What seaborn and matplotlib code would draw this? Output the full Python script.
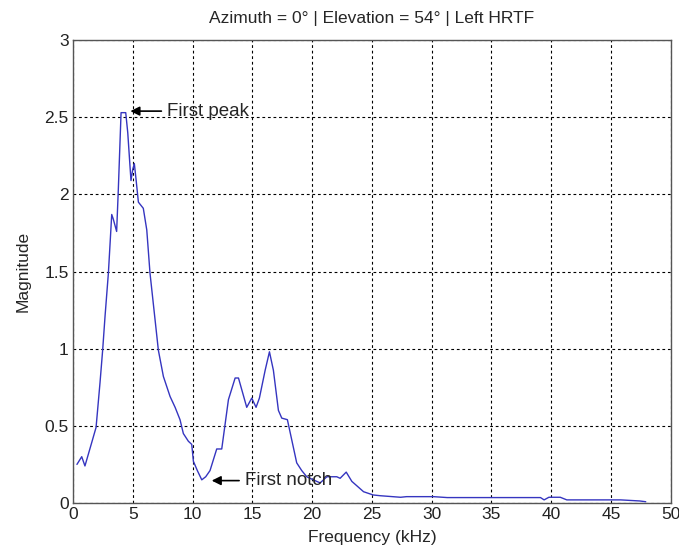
import pandas as pd
import matplotlib
matplotlib.use("Agg")
import matplotlib.pyplot as plt
import seaborn as sns

# --- datos ---
freq_khz = [0.33, 0.73, 1.0, 1.56, 1.93, 2.26, 2.48, 2.68, 2.96, 3.24, 3.37, 3.65, 3.79,
            4.02, 4.41, 4.58, 4.77, 4.85, 4.99, 5.13, 5.27, 5.47, 5.88, 6.17, 6.44, 6.86,
            7.14, 7.56, 8.12, 8.54, 8.95, 9.23, 9.65, 9.93, 10.07, 10.4, 10.77, 11.1, 11.46,
            12.02, 12.44, 13.0, 13.56, 13.84, 14.53, 14.95, 15.31, 15.59, 16.07, 16.43,
            16.76, 17.18, 17.46, 17.93, 18.71, 19.13, 19.55, 20.1, 20.67, 21.23, 22.06,
            22.34, 22.85, 23.32, 24.3, 25.1, 25.7, 27.4, 27.9, 30.15, 31.3, 35.0, 39.1,
            39.4, 39.8, 40.75, 41.3, 44.9, 45.8, 47.4, 47.9]
magnitude = [0.25, 0.30, 0.24, 0.39, 0.49, 0.78, 0.99, 1.21, 1.49, 1.87, 1.84, 1.76, 2.03,
             2.53, 2.53, 2.40, 2.18, 2.09, 2.16, 2.20, 2.10, 1.95, 1.91, 1.77, 1.49, 1.19,
             0.99, 0.82, 0.69, 0.62, 0.54, 0.45, 0.40, 0.38, 0.27, 0.21, 0.15, 0.17, 0.21,
             0.35, 0.35, 0.67, 0.81, 0.81, 0.62, 0.68, 0.62, 0.68, 0.86, 0.98,
             0.86, 0.60, 0.55, 0.54, 0.26, 0.21, 0.17, 0.15, 0.13, 0.17, 0.17,
             0.16, 0.20, 0.14, 0.073, 0.052, 0.047, 0.037, 0.041, 0.041, 0.035, 0.035, 0.035,
             0.02, 0.037, 0.037, 0.02, 0.02, 0.02, 0.013, 0.008]

x_ticks = [0, 5, 10, 15, 20, 25, 30, 35, 40, 45, 50]
y_ticks = [0, 0.5, 1, 1.5, 2, 2.5, 3]
y_labels = ["0", "0.5", "1", "1.5", "2", "2.5", "3"]

df = pd.DataFrame({"freq": freq_khz, "mag": magnitude})

sns.set_style("white")
plt.rcParams["font.family"] = ["Liberation Sans", "DejaVu Sans"]

fig = plt.figure(figsize=(6.79, 5.5), dpi=100)
ax = fig.add_axes([0.1075, 0.0855, 0.8805, 0.8415])

sns.lineplot(data=df, x="freq", y="mag", color="#3535c0", linewidth=1.0, ax=ax)

ax.set_xlim(0, 50)
ax.set_ylim(0, 3)
ax.set_xticks(x_ticks)
ax.set_yticks(y_ticks)
ax.set_yticklabels(y_labels)
ax.grid(True, color="black", linestyle=(0, (2.5, 2.5)), linewidth=0.8)
ax.tick_params(direction="in", length=4, labelsize=12.5, colors="#222222", pad=3)
for s in ax.spines.values():
    s.set_color("#555555")
    s.set_linewidth(1.0)

ax.set_xlabel("Frequency (kHz)", fontsize=12.5, labelpad=6)
ax.set_ylabel("Magnitude", fontsize=12.5, labelpad=10)
ax.set_title("Azimuth = 0° | Elevation = 54° | Left HRTF", fontsize=12.5, pad=12)

# --- anotaciones ---
ax.annotate("First peak", xy=(4.8, 2.54), xytext=(7.9, 2.54), va="center", fontsize=13.5,
            arrowprops=dict(arrowstyle="-|>", color="black", lw=1.2, shrinkA=2, shrinkB=0))
ax.annotate("First notch", xy=(11.6, 0.145), xytext=(14.4, 0.145), va="center", fontsize=13.5,
            arrowprops=dict(arrowstyle="-|>", color="black", lw=1.2, shrinkA=2, shrinkB=0))

fig.savefig("out.png", dpi=100)
